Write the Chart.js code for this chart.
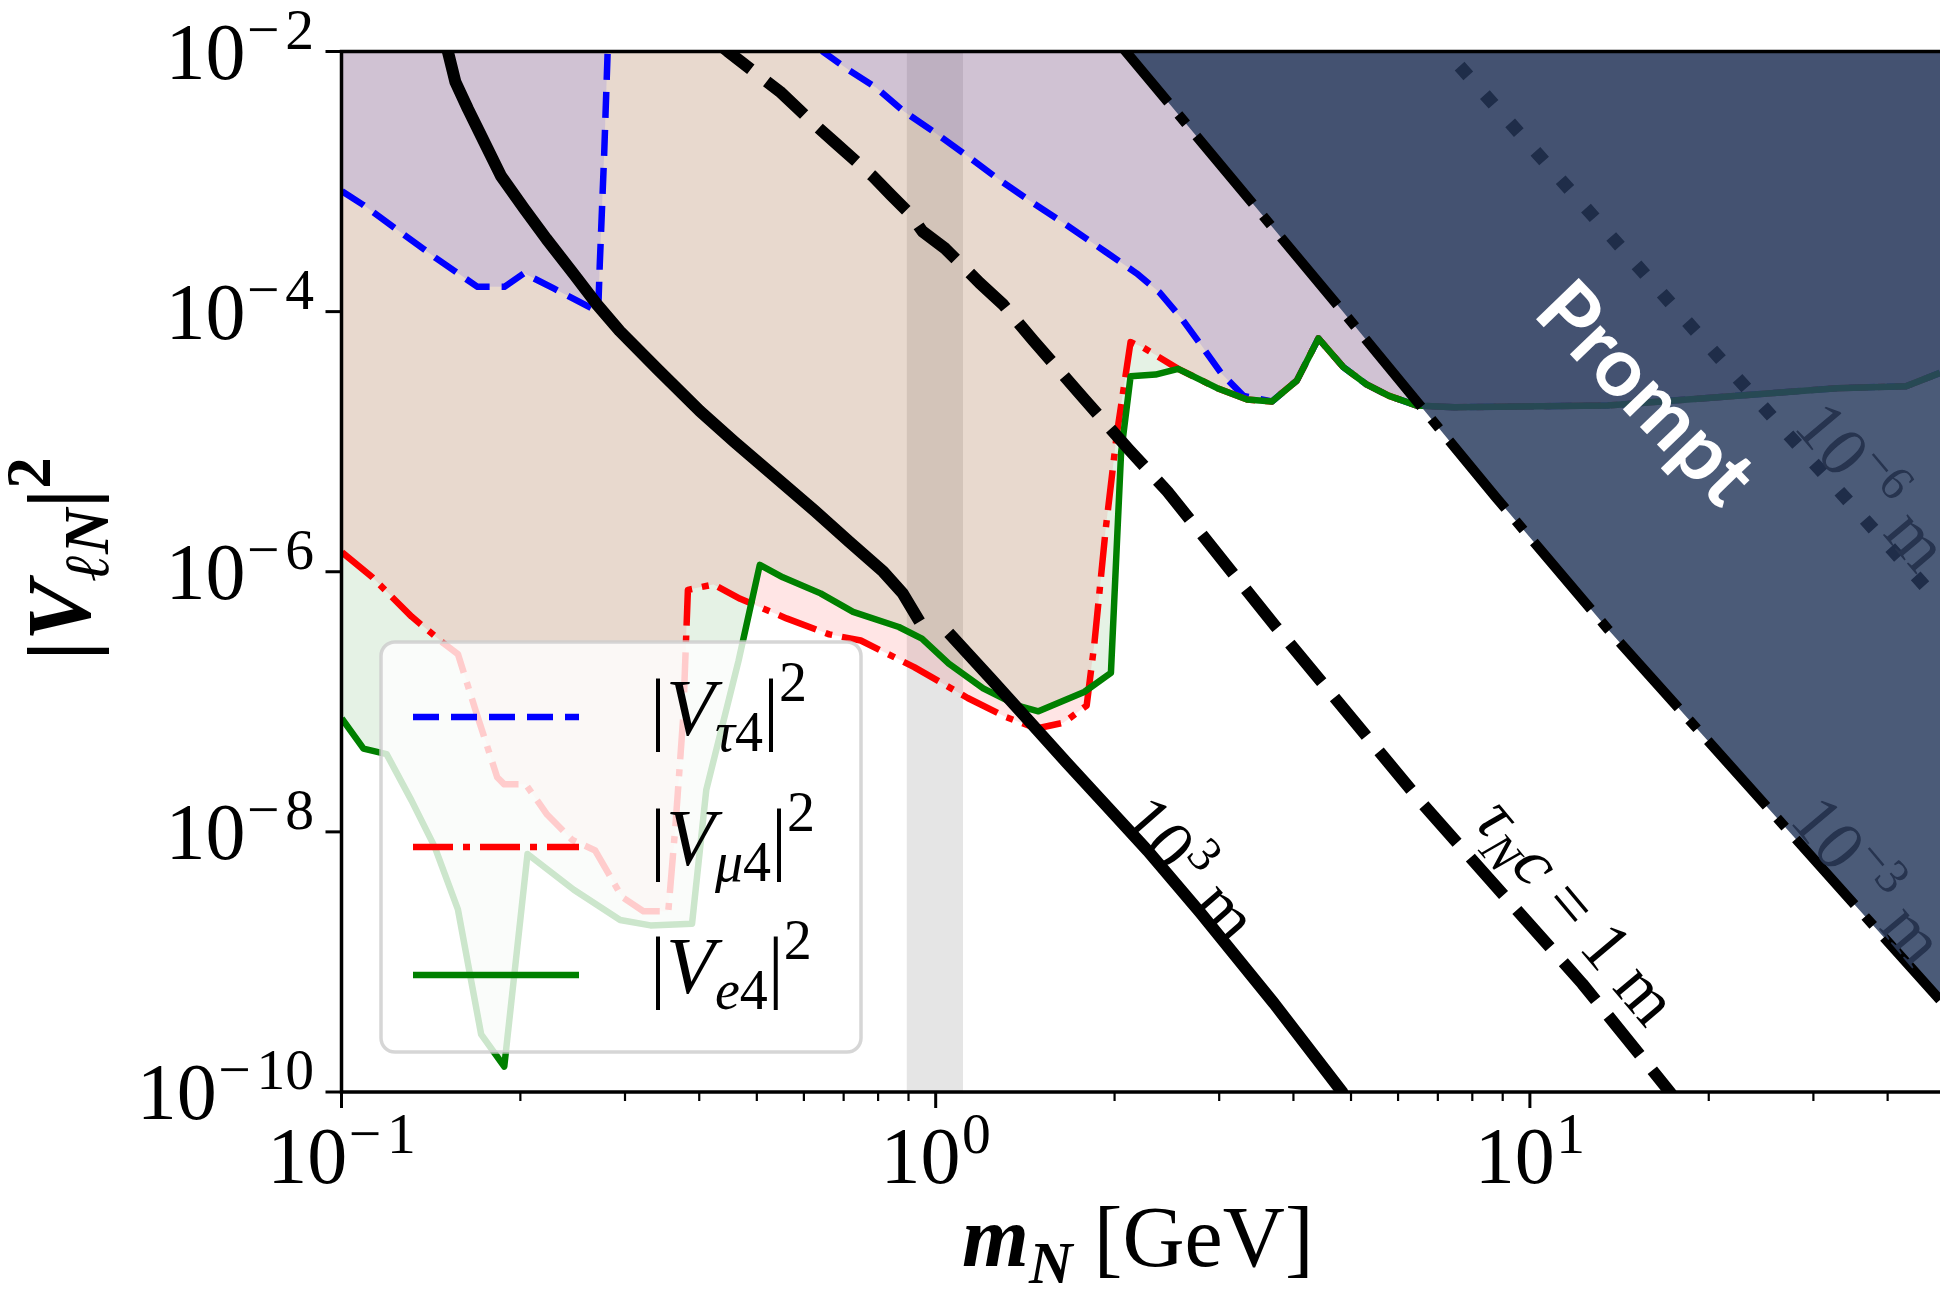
<!DOCTYPE html>
<html>
<head>
<meta charset="UTF-8">
<title>|V_lN|^2 vs m_N</title>
<script src="https://cdn.jsdelivr.net/npm/chart.js"></script>
<style>
  html,body{margin:0;padding:0;background:#fff}
  canvas{display:block}
</style>
</head>
<body>
<canvas id="c" width="1940" height="1292"></canvas>
<script>
// heavy neutral lepton mass m_N [GeV] and mixing |V|^2

// |V_e4|^2 (green, solid)
const eMass = [0.1001, 0.1089, 0.1191, 0.1312, 0.1435, 0.157, 0.1718, 0.1879, 0.2056, 0.246, 0.2944, 0.3311, 0.389, 0.4111, 0.4656, 0.5058, 0.553, 0.640, 0.726, 0.867, 0.948, 1.052, 1.202, 1.374, 1.489, 1.778, 1.972, 2.051, 2.128, 2.344, 2.559, 2.972, 3.342];
const eMix = [7.46e-8, 4.36e-8, 3.96e-8, 1.74e-8, 7.67e-9, 2.54e-9, 2.77e-10, 1.57e-10, 6.76e-9, 3.59e-9, 2.10e-9, 1.91e-9, 1.97e-9, 2.11e-8, 2.05e-7, 1.13e-6, 9.06e-7, 6.82e-7, 4.92e-7, 3.76e-7, 3.06e-7, 1.97e-7, 1.27e-7, 9.35e-8, 8.45e-8, 1.19e-7, 1.67e-7, 8.18e-6, 3.18e-5, 3.28e-5, 3.63e-5, 2.59e-5, 2.11e-5];

// |V_mu4|^2 (red, dash-dot)
const muMass = [0.1002, 0.1127, 0.1312, 0.1486, 0.157, 0.1683, 0.1828, 0.1879, 0.2042, 0.2218, 0.2443, 0.2673, 0.2965, 0.3221, 0.3548, 0.3648, 0.3758, 0.3828, 0.4227, 0.4688, 0.561, 0.6622, 0.748, 0.92, 1.132, 1.312, 1.479, 1.641, 1.795, 1.849, 1.932, 2.018, 2.128, 2.239, 2.559, 2.972, 3.342];
const muMix = [1.41e-6, 9.06e-7, 4.52e-7, 2.81e-7, 2.33e-7, 8.47e-8, 2.63e-8, 2.32e-8, 2.32e-8, 1.36e-8, 8.69e-9, 7.19e-9, 3.16e-9, 2.45e-9, 2.45e-9, 1.12e-8, 7.46e-8, 7.26e-7, 7.98e-7, 6.19e-7, 4.38e-7, 3.30e-7, 2.96e-7, 1.85e-7, 1.07e-7, 7.64e-8, 6.24e-8, 6.90e-8, 9.35e-8, 2.77e-7, 2.11e-6, 1.15e-5, 5.83e-5, 5.27e-5, 3.63e-5, 2.59e-5, 2.11e-5];

// |V_tau4|^2 (blue, dashed); the 2e-2 points sit above the frame
const tauMass = [0.1002, 0.1086, 0.1225, 0.1442, 0.1694, 0.188, 0.2028, 0.228, 0.2704, 0.272, 0.2767, 0.2805, 0.285, 0.62, 0.6457, 0.716, 0.794, 0.881, 0.993, 1.135, 1.276, 1.439, 1.667, 1.936, 2.178, 2.382, 2.600, 2.805, 3.020, 3.296];
const tauMix = [8.43e-4, 6.65e-4, 4.44e-4, 2.58e-4, 1.55e-4, 1.55e-4, 1.97e-4, 1.50e-4, 1.0e-4, 2.25e-4, 1.6e-3, 1e-2, 2e-2, 2e-2, 1e-2, 7.13e-3, 5.26e-3, 3.50e-3, 2.41e-3, 1.55e-3, 1.04e-3, 7.13e-4, 4.58e-4, 2.86e-4, 1.97e-4, 1.40e-4, 8.73e-5, 5.43e-5, 3.38e-5, 2.25e-5];

// above ~3.5 GeV the three bounds coincide
const tailMass = [3.681, 4.055, 4.406, 4.853, 5.309, 5.794, 6.442, 7.464, 13.52, 24.49, 32.89, 42.95, 49];
const tailMix = [2.04e-5, 2.96e-5, 6.22e-5, 3.74e-5, 2.76e-5, 2.25e-5, 1.90e-5, 1.84e-5, 1.90e-5, 2.33e-5, 2.58e-5, 2.67e-5, 3.38e-5];

// decay length contours
const km1Mass = [0.149, 0.151, 0.1555, 0.1632, 0.1718, 0.1854, 0.2028, 0.2213, 0.2455, 0.2685, 0.2938, 0.3404, 0.4009, 0.4581, 0.5309, 0.6252, 0.7145, 0.8166, 0.879, 0.9397, 0.99, 1.052, 1.239, 1.435, 1.663, 1.932, 2.275, 2.786, 3.71, 4.831, 5.0];
const km1Mix = [1.3e-2, 1e-2, 5.82e-3, 3.62e-3, 2.25e-3, 1.11e-3, 6.22e-4, 3.62e-4, 1.97e-4, 1.15e-4, 7.11e-5, 3.61e-5, 1.72e-5, 9.98e-6, 5.61e-6, 2.95e-6, 1.71e-6, 9.98e-7, 6.87e-7, 4.14e-7, null, 3.39e-7, 1.50e-7, 7.14e-8, 3.39e-8, 1.61e-8, 7.14e-9, 2.40e-9, 4.8e-10, 1e-10, 7e-11];

const oneMeterMass = [0.42, 0.447, 0.501, 0.547, 0.625, 0.673, 0.782, 0.841, 0.906, 0.950, 1.038, 1.186, 1.297, 1.459, 1.770, 2.113, 2.455, 3.112, 3.733, 6.577, 12.25, 17.2, 17.8];
const oneMeterMix = [1.27e-2, 1e-2, 6.67e-3, 4.91e-3, 2.76e-3, 2.04e-3, 1.11e-3, 7.89e-4, 5.62e-4, 4.14e-4, 3.05e-4, 1.66e-4, 1.14e-4, 6.01e-5, 2.18e-5, 8.73e-6, 4.14e-6, 1.07e-6, 3.80e-7, 1.67e-8, 6.81e-10, 1e-10, 8e-11];

const promptMass = [1.98, 2.089, 4.786, 8.77, 13.52, 49];
const promptMix = [1.35e-2, 1e-2, 1.07e-4, 3.72e-6, 3.63e-7, 5.1e-10];

const microMass = [6.9, 7.24, 22.39, 44.87, 49];
const microMix = [1.27e-2, 1e-2, 3.05e-5, 9.0e-7, 5.75e-7];

// grey band around 1 GeV
const bandMass = [0.893, 1.112];
const bandTop = [1e-2, 1e-2];

// axes
const xMajorTicks = [0.1, 1, 10];
const xTickExp = ['\u22121', '0', '1'];
const xMinorTicks = [0.2, 0.3, 0.4, 0.5, 0.6, 0.7, 0.8, 0.9, 2, 3, 4, 5, 6, 7, 8, 9, 20, 30, 40];
const yMajorTicks = [1e-2, 1e-4, 1e-6, 1e-8, 1e-10];
const yTickExp = ['2', '4', '6', '8', '10'];

const SERIF = '"Liberation Serif", "DejaVu Serif", serif';

function pts(xs, ys) { return xs.map((x, i) => ({x: x, y: ys[i]})); }

function line(label, xs, ys, o) {
  return Object.assign({label: label, data: pts(xs, ys), pointRadius: 0, tension: 0, clip: 0,
    fill: false, borderJoinStyle: 'round', borderCapStyle: 'butt', spanGaps: false}, o);
}

const NONE = 'rgba(0,0,0,0)';
const eAll = eMass.concat(tailMass), eAllMix = eMix.concat(tailMix);
const muAll = muMass.concat(tailMass), muAllMix = muMix.concat(tailMix);
const tauAll = tauMass.concat(tailMass), tauAllMix = tauMix.concat(tailMix);

const eLine = line('e', eAll, eAllMix, {borderColor: '#008000', borderWidth: 6.5, order: 24});
const muLine = line('mu', muAll, muAllMix, {borderColor: '#ff0000', borderWidth: 6.5, borderDash: [40, 10, 7, 10], order: 25});
const tauLine = line('tau', tauAll, tauAllMix, {borderColor: '#0000ff', borderWidth: 6.5, borderDash: [26, 12], order: 26});

const datasets = [
  line('band', bandMass, bandTop, {fill: 'start', backgroundColor: 'rgba(0,0,0,0.1)', borderColor: NONE, borderWidth: 0, order: 30}),
  line('e fill', eAll, eAllMix, {fill: 'end', backgroundColor: 'rgba(0,128,0,0.1)', borderColor: NONE, borderWidth: 0, order: 29}),
  line('mu fill', muAll, muAllMix, {fill: 'end', backgroundColor: 'rgba(255,0,0,0.1)', borderColor: NONE, borderWidth: 0, order: 28}),
  line('tau fill', tauAll, tauAllMix, {fill: 'end', backgroundColor: 'rgba(0,0,255,0.1)', borderColor: NONE, borderWidth: 0, order: 27}),
  tauLine, muLine, eLine,
  line('prompt', promptMass, promptMix, {fill: 'end', backgroundColor: 'rgba(45,64,98,0.86)', borderColor: '#000', borderWidth: 10, borderDash: [88, 16, 12, 16], order: 23}),
  line('1e-6 m', microMass, microMix, {borderColor: '#1f2d49', borderWidth: 13, borderDash: [13, 25], order: 22}),
  line('1e3 m', km1Mass, km1Mix, {borderColor: '#000', borderWidth: 12, order: 21}),
  line('1 m', oneMeterMass, oneMeterMix, {borderColor: '#000', borderWidth: 12, borderDash: [50, 20], order: 20})
];

// small math-like text runs: parts with italic/bold, scale and raise
function fontOf(p, size) {
  return (p.it ? 'italic ' : '') + (p.b ? 'bold ' : '') + (size * (p.sc || 1)).toFixed(1) + 'px ' + SERIF;
}
function runWidth(ctx, parts, size) {
  let w = 0;
  for (const p of parts) { ctx.font = fontOf(p, size); w += ctx.measureText(p.t).width + (p.gap || 0) * size; }
  return w;
}
function drawRun(ctx, parts, x, y, size, align) {
  const w = runWidth(ctx, parts, size);
  if (align === 'center') x -= w / 2; else if (align === 'right') x -= w;
  ctx.textAlign = 'left'; ctx.textBaseline = 'alphabetic';
  for (const p of parts) {
    ctx.font = fontOf(p, size);
    ctx.fillText(p.t, x, y - (p.up || 0) * size);
    x += ctx.measureText(p.t).width + (p.gap || 0) * size;
  }
}
function rotRun(ctx, parts, cx, cy, size, deg, align, color) {
  ctx.save();
  ctx.translate(cx, cy);
  ctx.rotate(deg * Math.PI / 180);
  ctx.fillStyle = color;
  drawRun(ctx, parts, 0, 0.33 * size, size, align);
  ctx.restore();
}
function seg(ctx, x1, y1, x2, y2) { ctx.beginPath(); ctx.moveTo(x1, y1); ctx.lineTo(x2, y2); ctx.stroke(); }
function powParts(exp, neg) {
  const parts = [{t: '10', gap: 0.02}];
  if (neg) parts.push({t: '\u2212', sc: 0.72, up: 0.37, gap: 0.07});
  parts.push({t: exp, sc: 0.72, up: 0.37});
  return parts;
}

const legendRows = [
  {ds: tauLine, y: 717, parts: [{t: '|'}, {t: 'V', it: 1}, {t: '\u03c4', it: 1, sc: 0.7, up: -0.2, gap: 0}, {t: '4', sc: 0.7, up: -0.2}, {t: '|'}, {t: '2', sc: 0.7, up: 0.42}]},
  {ds: muLine, y: 847, parts: [{t: '|'}, {t: 'V', it: 1}, {t: '\u03bc', it: 1, sc: 0.7, up: -0.2}, {t: '4', sc: 0.7, up: -0.2}, {t: '|'}, {t: '2', sc: 0.7, up: 0.42}]},
  {ds: eLine, y: 975, parts: [{t: '|'}, {t: 'V', it: 1}, {t: 'e', it: 1, sc: 0.7, up: -0.2}, {t: '4', sc: 0.7, up: -0.2}, {t: '|'}, {t: '2', sc: 0.7, up: 0.42}]}
];

const decor = {
  id: 'decor',
  afterDraw(chart) {
    const ctx = chart.ctx, a = chart.chartArea, xs = chart.scales.x, ys = chart.scales.y;
    ctx.save();
    ctx.setLineDash([]);
    ctx.fillStyle = '#000'; ctx.strokeStyle = '#000';

    // frame (right side is off the picture)
    ctx.lineWidth = 3.5;
    ctx.beginPath();
    ctx.moveTo(a.right + 5, a.top); ctx.lineTo(a.left, a.top);
    ctx.lineTo(a.left, a.bottom); ctx.lineTo(a.right + 5, a.bottom);
    ctx.stroke();

    // ticks and labels
    ctx.lineWidth = 3;
    xMajorTicks.forEach((v, i) => {
      const px = xs.getPixelForValue(v);
      seg(ctx, px, a.bottom, px, a.bottom + 16);
      const neg = xTickExp[i].charAt(0) === '\u2212';
      drawRun(ctx, powParts(neg ? xTickExp[i].slice(1) : xTickExp[i], neg), px, 1183, 80, 'center');
    });
    ctx.lineWidth = 2.2;
    xMinorTicks.forEach(v => { const px = xs.getPixelForValue(v); seg(ctx, px, a.bottom, px, a.bottom + 9); });
    ctx.lineWidth = 3;
    yMajorTicks.forEach((v, i) => {
      const py = ys.getPixelForValue(v);
      seg(ctx, a.left - 16, py, a.left, py);
      drawRun(ctx, powParts(yTickExp[i], true), 314, py + 27, 80, 'right');
    });

    // axis titles
    drawRun(ctx, [{t: 'm', b: 1, it: 1}, {t: 'N', b: 1, it: 1, sc: 0.7, up: -0.2}, {t: ' [GeV]'}], 962, 1266, 86, 'left');
    ctx.save();
    ctx.translate(90, 559);
    ctx.rotate(-Math.PI / 2);
    drawRun(ctx, [{t: '|', b: 1}, {t: 'V', b: 1, it: 1}, {t: '\u2113N', b: 1, it: 1, sc: 0.7, up: -0.2}, {t: '|', b: 1}, {t: '2', b: 1, sc: 0.7, up: 0.45}], 0, 0, 90, 'center');
    ctx.restore();

    // contour labels
    rotRun(ctx, [{t: '10'}, {t: '3', sc: 0.7, up: 0.4}, {t: ' m'}], 1190, 869, 70, 49, 'center', '#000');
    rotRun(ctx, [{t: '\u03c4', it: 1}, {t: 'N', it: 1, sc: 0.7, up: -0.2}, {t: 'c', it: 1}, {t: ' = 1 m'}], 1577, 911, 70, 50, 'center', '#000');
    rotRun(ctx, [{t: '10'}, {t: '\u22123', sc: 0.7, up: 0.4}, {t: ' m'}], 1806, 806, 70, 50, 'left', '#27344f');
    rotRun(ctx, [{t: '10'}, {t: '\u22126', sc: 0.7, up: 0.4}, {t: ' m'}], 1810, 412, 70, 50, 'left', '#27344f');

    // Prompt
    ctx.save();
    ctx.translate(1645, 394);
    ctx.rotate(46 * Math.PI / 180);
    ctx.fillStyle = '#fff';
    ctx.font = 'bold 82px Lato, "Open Sans", sans-serif';
    ctx.textAlign = 'center'; ctx.textBaseline = 'middle';
    ctx.fillText('Prompt', 0, 0);
    ctx.restore();

    // legend
    const bx = 381, by = 642, bw = 480, bh = 410, r = 14;
    ctx.beginPath();
    ctx.moveTo(bx + r, by);
    ctx.arcTo(bx + bw, by, bx + bw, by + bh, r);
    ctx.arcTo(bx + bw, by + bh, bx, by + bh, r);
    ctx.arcTo(bx, by + bh, bx, by, r);
    ctx.arcTo(bx, by, bx + bw, by, r);
    ctx.closePath();
    ctx.fillStyle = 'rgba(255,255,255,0.8)';
    ctx.fill();
    ctx.strokeStyle = 'rgba(204,204,204,0.8)';
    ctx.lineWidth = 3.5;
    ctx.stroke();
    legendRows.forEach(row => {
      ctx.strokeStyle = row.ds.borderColor;
      ctx.lineWidth = row.ds.borderWidth;
      ctx.setLineDash(row.ds.borderDash || []);
      ctx.lineCap = 'butt';
      seg(ctx, 413, row.y, 579, row.y);
      ctx.setLineDash([]);
      ctx.fillStyle = '#000';
      drawRun(ctx, row.parts, 650, row.y + 18, 80, 'left');
    });
    ctx.restore();
  }
};

new Chart(document.getElementById('c'), {
  type: 'line',
  data: {datasets: datasets},
  options: {
    responsive: false,
    devicePixelRatio: 1,
    animation: false,
    events: [],
    layout: {padding: {left: 0, right: 0, top: 51.5, bottom: 0}},
    plugins: {legend: {display: false}, tooltip: {enabled: false}},
    scales: {
      x: {
        type: 'logarithmic', min: 0.1, max: 49, bounds: 'data',
        ticks: {display: false}, grid: {display: false}, border: {display: false},
        afterFit: s => { s.height = 200; }
      },
      y: {
        type: 'logarithmic', min: 1e-10, max: 1e-2, bounds: 'data',
        ticks: {display: false}, grid: {display: false}, border: {display: false},
        afterFit: s => { s.width = 341.5; }
      }
    }
  },
  plugins: [decor]
});
</script>
</body>
</html>
